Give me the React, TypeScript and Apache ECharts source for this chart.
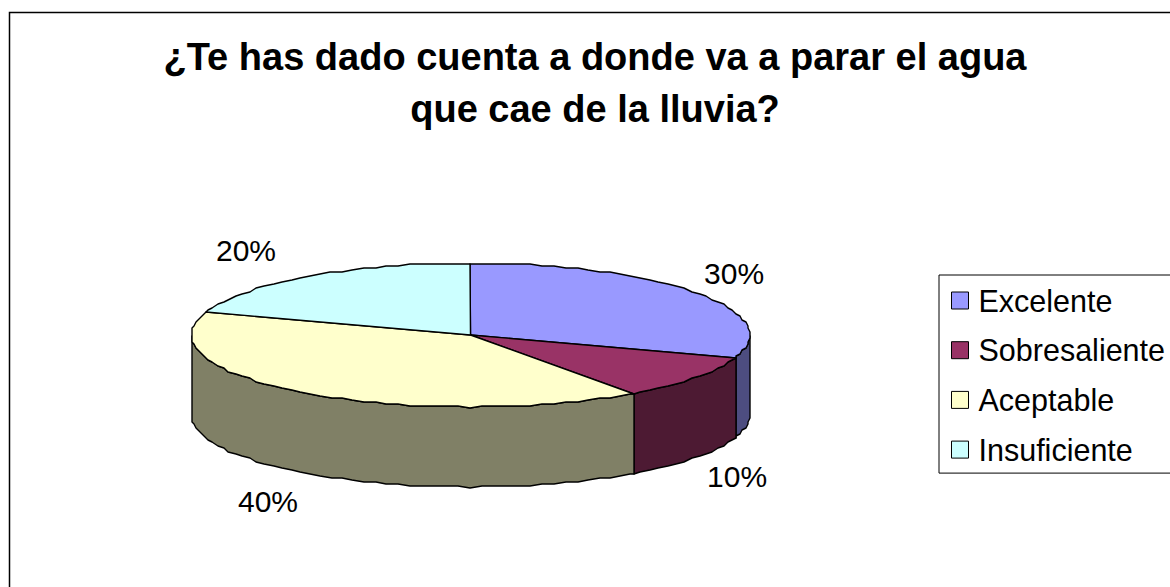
import React, { useEffect, useRef } from "react";
import * as echarts from "echarts";

const titleLines = ["¿Te has dado cuenta a donde va a parar el agua", "que cae de la lluvia?"];
const categories = ["Excelente", "Sobresaliente", "Aceptable", "Insuficiente"];
const shares = [30, 10, 40, 20];
const topColors = ["#9999ff", "#993366", "#ffffcc", "#ccffff"];
const wallColors = ["#4d4d80", "#4d1a33", "#808066", "#668080"];
const labelNudges = [[-1, 0], [2, 0], [-2, 2], [-24, 0]];

const FONT = '"Liberation Sans", Arial, sans-serif';
const PIE = { cx: 470.5, cy: 335, rx: 279, ry: 72, depth: 80 };
const LABEL_RING = { rx: 290, ry: 105 };
const GRID = 2;
const STEP = 2.5;

const snap = (v: number) => Math.round(v / GRID) * GRID;

// Rim point at a clockwise angle measured from 12 o'clock. Coordinates snap to a coarse
// grid to give the rim its stepped, low-resolution outline.
function rim(deg: number, drop = 0): number[] {
  const a = (deg * Math.PI) / 180;
  return [snap(PIE.cx + PIE.rx * Math.sin(a)), snap(PIE.cy - PIE.ry * Math.cos(a)) + drop];
}

function arc(from: number, to: number, drop = 0): number[][] {
  const pts: number[][] = [];
  const first = Math.ceil(from / STEP) * STEP;
  pts.push(rim(from, drop));
  for (let d = first; d < to; d += STEP) if (d > from) pts.push(rim(d, drop));
  pts.push(rim(to, drop));
  return pts;
}

const outline = { stroke: "#000", lineWidth: 1.4, lineJoin: "round" };

function sliceRenderer(index: number) {
  const total = shares.reduce((s, v) => s + v, 0);
  const before = shares.slice(0, index).reduce((s, v) => s + v, 0);
  return (_params: unknown, api: any) => {
    const value = api.value(0) as number;
    const start = (before / total) * 360;
    const end = ((before + value) / total) * 360;
    const children: any[] = [];

    // Wall: only the part of the rim facing the viewer (90° to 270°)
    const wallFrom = Math.max(start, 90);
    const wallTo = Math.min(end, 270);
    if (wallFrom < wallTo) {
      children.push({
        type: "polygon",
        shape: { points: [...arc(wallFrom, wallTo), ...arc(wallFrom, wallTo, PIE.depth).reverse()] },
        style: { fill: wallColors[index], ...outline },
      });
    }

    // Top face
    children.push({
      type: "polygon",
      shape: { points: [[PIE.cx, PIE.cy], ...arc(start, end)] },
      style: { fill: topColors[index], ...outline },
    });

    // Percentage label placed outward from the slice's mid angle
    const mid = (((start + end) / 2) * Math.PI) / 180;
    const sinM = Math.sin(mid);
    const cosM = Math.cos(mid);
    const onRight = sinM > 0;
    const lower = cosM < 0;
    children.push({
      type: "text",
      style: {
        text: `${Math.round((value / total) * 100)}%`,
        x: PIE.cx + LABEL_RING.rx * sinM + labelNudges[index][0],
        y: PIE.cy - LABEL_RING.ry * cosM + (lower ? PIE.depth : 0) + labelNudges[index][1],
        align: onRight ? "left" : "right",
        verticalAlign: "middle",
        font: `30px ${FONT}`,
        fill: "#000",
      },
    });
    return { type: "group", children };
  };
}

export default function App() {
  const ref = useRef<HTMLDivElement>(null);
  useEffect(() => {
    const chart = echarts.init(ref.current!, undefined, { renderer: "svg" });
    chart.setOption({
      animation: false,
      backgroundColor: "#fff",
      title: {
        text: titleLines.join("\n"),
        left: 590,
        top: 26,
        textAlign: "center",
        textStyle: { fontFamily: FONT, fontSize: 38, fontWeight: "bold", color: "#000", lineHeight: 52 },
      },
      graphic: [
        {
          type: "rect",
          z: -1,
          shape: { x: 9.5, y: 12.5, width: 1400, height: 800 },
          style: { fill: "none", stroke: "#000", lineWidth: 1.5 },
        },
      ],
      legend: {
        orient: "vertical",
        left: 939,
        top: 275,
        padding: [10, 12, 8, 12],
        itemWidth: 17,
        itemHeight: 17,
        itemGap: 18.7,
        borderColor: "#000",
        borderWidth: 1,
        icon: "rect",
        align: "left",
        data: categories,
        itemStyle: { borderColor: "#000", borderWidth: 1 },
        textStyle: { fontFamily: FONT, fontSize: 30.5, color: "#000", padding: [0, 0, 0, 5] },
      },
      series: categories.map((name, i) => ({
        type: "custom",
        name,
        coordinateSystem: "none",
        itemStyle: { color: topColors[i] },
        renderItem: sliceRenderer(i),
        data: [[shares[i]]],
        silent: true,
      })),
    });
    return () => chart.dispose();
  }, []);
  return <div ref={ref} style={{ position: "absolute", left: 0, top: 0, width: 1170, height: 587 }} />;
}
